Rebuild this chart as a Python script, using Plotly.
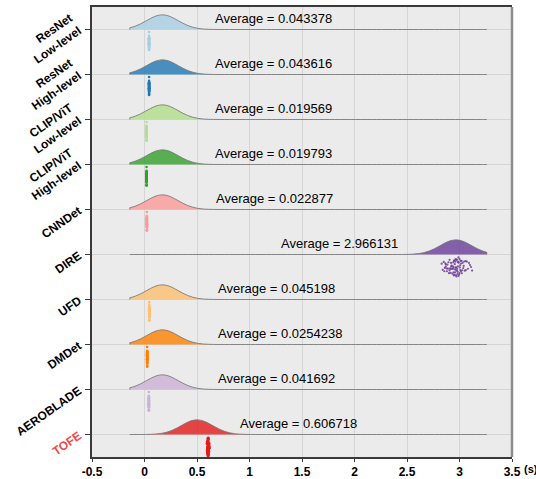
import plotly.graph_objects as go

methods = ["ResNet Low-level", "ResNet High-level", "CLIP/ViT Low-level", "CLIP/ViT High-level",
           "CNNDet", "DIRE", "UFD", "DMDet", "AEROBLADE", "TOFE"]
tick_labels = ["ResNet<br>Low-level", "ResNet<br>High-level", "CLIP/ViT<br>Low-level",
               "CLIP/ViT<br>High-level", "CNNDet", "DIRE", "UFD", "DMDet", "AEROBLADE",
               "<span style='color:#ee4a4a'>TOFE</span>"]
averages = [0.043378, 0.043616, 0.019569, 0.019793, 0.022877, 2.966131,
            0.045198, 0.0254238, 0.041692, 0.606718]
# location of the density peak of each cloud
cloud_peaks = [0.17, 0.17, 0.17, 0.17, 0.17, 2.966, 0.17, 0.17, 0.17, 0.50]
colors = ["#a6cee3", "#1f78b4", "#b2df8a", "#33a02c", "#fb9a99",
          "#6a3d9a", "#fdbf6f", "#ff7f00", "#cab2d6", "#e31a1c"]

# per-run inference times (s), estimated from the point strips
samples = {
    "ResNet Low-level": [0.0421, 0.0425, 0.0428, 0.0430, 0.0431, 0.0432, 0.0433, 0.0433, 0.0434,
                         0.0434, 0.0435, 0.0436, 0.0437, 0.0438, 0.0440, 0.0443, 0.0429, 0.0436,
                         0.0432, 0.0439, 0.0427, 0.0441, 0.0435, 0.0431, 0.0433, 0.0434, 0.0430,
                         0.0437, 0.0432, 0.0436, 0.0434, 0.0435, 0.0431, 0.0433, 0.0438, 0.0434],
    "ResNet High-level": [0.0423, 0.0427, 0.0430, 0.0432, 0.0433, 0.0434, 0.0435, 0.0436, 0.0436,
                          0.0437, 0.0437, 0.0438, 0.0439, 0.0440, 0.0442, 0.0446, 0.0431, 0.0438,
                          0.0434, 0.0441, 0.0429, 0.0444, 0.0437, 0.0433, 0.0435, 0.0436, 0.0432,
                          0.0439, 0.0434, 0.0438, 0.0436, 0.0437, 0.0433, 0.0435, 0.0440, 0.0436],
    "CLIP/ViT Low-level": [0.0185, 0.0188, 0.0190, 0.0192, 0.0193, 0.0194, 0.0195, 0.0195, 0.0196,
                           0.0196, 0.0197, 0.0197, 0.0198, 0.0199, 0.0200, 0.0203, 0.0191, 0.0198,
                           0.0194, 0.0201, 0.0189, 0.0202, 0.0196, 0.0193, 0.0195, 0.0196, 0.0192,
                           0.0199, 0.0194, 0.0198, 0.0196, 0.0197, 0.0193, 0.0195, 0.0200, 0.0196],
    "CLIP/ViT High-level": [0.0187, 0.0190, 0.0192, 0.0194, 0.0195, 0.0196, 0.0197, 0.0197, 0.0198,
                            0.0198, 0.0199, 0.0199, 0.0200, 0.0201, 0.0202, 0.0205, 0.0193, 0.0200,
                            0.0196, 0.0203, 0.0191, 0.0204, 0.0198, 0.0195, 0.0197, 0.0198, 0.0194,
                            0.0201, 0.0196, 0.0200, 0.0198, 0.0199, 0.0195, 0.0197, 0.0202, 0.0198],
    "CNNDet": [0.0218, 0.0221, 0.0223, 0.0225, 0.0226, 0.0227, 0.0228, 0.0228, 0.0229,
               0.0229, 0.0230, 0.0230, 0.0231, 0.0232, 0.0233, 0.0236, 0.0224, 0.0231,
               0.0227, 0.0234, 0.0222, 0.0235, 0.0229, 0.0226, 0.0228, 0.0229, 0.0225,
               0.0232, 0.0227, 0.0231, 0.0229, 0.0230, 0.0226, 0.0228, 0.0233, 0.0229],
    "DIRE": [2.84, 2.86, 2.87, 2.88, 2.885, 2.89, 2.90, 2.905, 2.91, 2.915, 2.92, 2.925,
             2.93, 2.932, 2.936, 2.94, 2.943, 2.946, 2.95, 2.952, 2.955, 2.958, 2.96, 2.962,
             2.965, 2.967, 2.97, 2.972, 2.974, 2.976, 2.98, 2.982, 2.985, 2.988, 2.99, 2.993,
             2.996, 3.00, 3.003, 3.006, 3.01, 3.014, 3.02, 3.025, 3.03, 3.035, 3.04, 3.05,
             3.06, 3.07, 3.09, 3.11, 2.85, 2.895, 2.92, 2.957, 3.0, 3.045, 2.938, 2.978,
             2.83, 3.12, 2.87, 3.08, 2.948, 2.99, 2.963, 3.015, 2.865, 2.905, 2.944, 2.983,
             3.022, 3.058, 2.878, 2.918, 2.968, 3.008, 3.1, 2.855],
    "UFD": [0.0442, 0.0446, 0.0448, 0.0449, 0.0450, 0.0451, 0.0452, 0.0452, 0.0453,
            0.0453, 0.0454, 0.0454, 0.0455, 0.0456, 0.0457, 0.0460, 0.0448, 0.0455,
            0.0451, 0.0458, 0.0447, 0.0459, 0.0452, 0.0450, 0.0452, 0.0453, 0.0449,
            0.0456, 0.0451, 0.0455, 0.0453, 0.0454, 0.0450, 0.0452, 0.0457, 0.0453],
    "DMDet": [0.0245, 0.0248, 0.0250, 0.0252, 0.0253, 0.0254, 0.0255, 0.0255, 0.0256,
              0.0256, 0.0257, 0.0257, 0.0258, 0.0259, 0.0260, 0.0263, 0.0251, 0.0258,
              0.0254, 0.0261, 0.0249, 0.0262, 0.0255, 0.0253, 0.0254, 0.0255, 0.0251,
              0.0258, 0.0253, 0.0257, 0.0255, 0.0256, 0.0252, 0.0254, 0.0259, 0.0255],
    "AEROBLADE": [0.0407, 0.0410, 0.0412, 0.0414, 0.0415, 0.0416, 0.0417, 0.0417, 0.0418,
                  0.0418, 0.0419, 0.0419, 0.0420, 0.0421, 0.0422, 0.0425, 0.0413, 0.0420,
                  0.0416, 0.0423, 0.0411, 0.0424, 0.0418, 0.0415, 0.0417, 0.0418, 0.0414,
                  0.0421, 0.0416, 0.0420, 0.0418, 0.0419, 0.0415, 0.0417, 0.0422, 0.0418],
    "TOFE": [0.598, 0.600, 0.601, 0.602, 0.603, 0.604, 0.604, 0.605, 0.605, 0.606,
             0.606, 0.607, 0.607, 0.608, 0.608, 0.609, 0.610, 0.611, 0.612, 0.614,
             0.616, 0.603, 0.606, 0.609, 0.605, 0.607, 0.602, 0.611],
}

x_tick_vals = [-0.5, 0, 0.5, 1, 1.5, 2, 2.5, 3, 3.5]
x_tick_text = ["-0.5", "0", "0.5", "1", "1.5", "2", "2.5", "3", "3.5"]


def rgba(hex_color, a):
    h = hex_color.lstrip("#")
    r, g, b = int(h[0:2], 16), int(h[2:4], 16), int(h[4:6], 16)
    return f"rgba({r},{g},{b},{a})"


fig = go.Figure()
font_family = "Liberation Sans, Arial, sans-serif"

for i, m in enumerate(methods):
    # the cloud (half density)
    fig.add_trace(go.Violin(
        x=[cloud_peaks[i]], y0=m, orientation="h", side="positive",
        bandwidth=0.15, spanmode="manual", span=[-0.14, 3.26],
        width=0.65, points=False, scalemode="width",
        fillcolor=rgba(colors[i], 0.8), line=dict(color="#707070", width=0.8),
        box=dict(visible=False), meanline=dict(visible=False),
        hoverinfo="skip", showlegend=False,
    ))
    # the rain (sample points)
    vals = samples[m]
    ms = 2.6
    if m == "DIRE":
        ms = 2.2
    if m == "TOFE":
        ms = 3.4
    fig.add_trace(go.Box(
        x=vals, y=[m] * len(vals), orientation="h",
        boxpoints="all", jitter=0.95, pointpos=-1.06, width=0.5,
        fillcolor="rgba(0,0,0,0)", line=dict(width=0, color="rgba(0,0,0,0)"),
        whiskerwidth=0, marker=dict(color=colors[i], size=ms, opacity=0.85 if m == "DIRE" else 1),
        hoveron="points", showlegend=False,
    ))

label_x = [0.655, 0.655, 0.655, 0.655, 0.66, 2.43, 0.685, 0.685, 0.685, 0.895]
annotations = []
for i, m in enumerate(methods):
    annotations.append(dict(
        x=label_x[i], y=m, xref="x", yref="y", yshift=11,
        text=f"Average = {averages[i]}", showarrow=False,
        xanchor="right" if m == "DIRE" else "left", yanchor="middle",
        font=dict(family=font_family, size=13, color="black"),
    ))
annotations.append(dict(
    x=1, y=0, xref="paper", yref="paper", xshift=10, yshift=-12,
    text="(s)", showarrow=False, xanchor="left", yanchor="middle",
    font=dict(family=font_family, size=11, color="black", weight="bold"),
))

fig.update_layout(
    width=536, height=479,
    margin=dict(l=92, r=24, t=7, b=22),
    paper_bgcolor="white", plot_bgcolor="#ebebeb",
    violinmode="overlay", boxmode="overlay",
    showlegend=False,
    annotations=annotations,
    shapes=[dict(type="line", xref="paper", yref="paper", x0=1, x1=1, y0=0, y1=1,
                 line=dict(color="#8c8c8c", width=2.5))],
    xaxis=dict(
        range=[-0.5, 3.5], tickvals=x_tick_vals, ticktext=x_tick_text, automargin=False,
        showgrid=True, gridcolor="#d5d5d5", gridwidth=1, zeroline=False,
        showline=True, linecolor="#3a3a3a", linewidth=1.5, mirror=True,
        ticks="outside", ticklen=3, tickcolor="#3a3a3a",
        tickfont=dict(family=font_family, size=12, color="black", weight="bold"),
    ),
    yaxis=dict(
        type="category", categoryorder="array", categoryarray=methods[::-1], automargin=False,
        range=[-0.5, 9.5], tickmode="array", tickvals=methods, ticktext=tick_labels,
        showgrid=True, gridcolor="#d5d5d5", gridwidth=1, zeroline=False,
        showline=True, linecolor="#3a3a3a", linewidth=1.5,
        ticks="outside", ticklen=5, tickcolor="#3a3a3a", tickangle=-35,
        ticklabelstandoff=4,
        tickfont=dict(family=font_family, size=12, color="black", weight="bold"),
    ),
)

# remove the page's default 8px body margin so the 536x479 figure fills the window
fig.write_html("out.html", config={"displayModeBar": False},
               post_script="document.body.style.margin='0';document.body.style.overflow='hidden';")
